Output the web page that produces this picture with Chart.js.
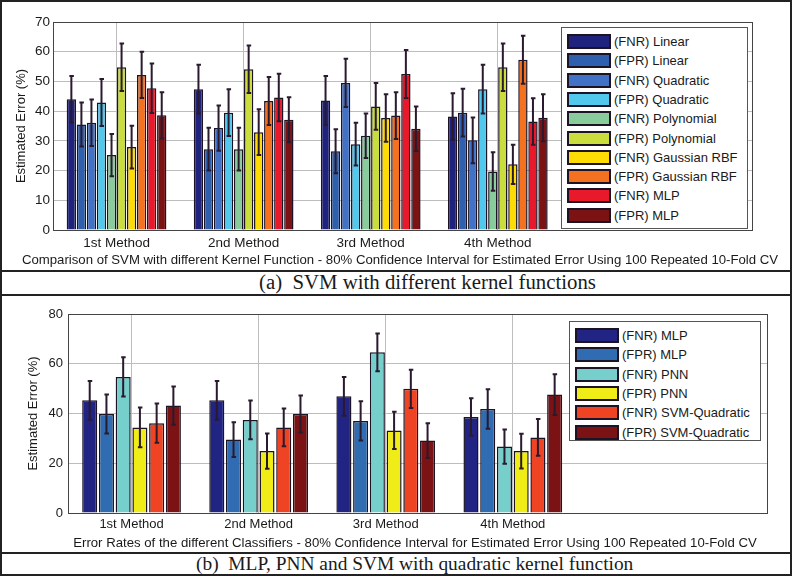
<!DOCTYPE html>
<html>
<head>
<meta charset="utf-8">
<script src="https://cdn.jsdelivr.net/npm/chart.js@4.4.0/dist/chart.umd.min.js"></script>
<style>
  body { margin: 0; background: #fff; }
  #page { position: relative; width: 794px; height: 576px; overflow: hidden; }
  .wrap { position: absolute; left: 0; width: 794px; }
  .hline { position: absolute; left: 0; width: 792px; height: 1.5px; background: #222; z-index: 5; }
  .vline { position: absolute; top: 0; width: 1.5px; height: 576px; background: #222; z-index: 5; }
  .caption { position: absolute; font-family: "Liberation Serif", "Times New Roman", serif; color: #1a1a1a; white-space: pre; }
  .xlabel { position: absolute; width: 900px; text-align: center; font-family: "Liberation Sans", Arial, sans-serif;
            font-size: 13.2px; color: #1a1a1a; white-space: nowrap; line-height: 1; }
  .legend { position: absolute; background: #fff; border: 1px solid #555; box-sizing: border-box; z-index: 3;
            font-family: "Liberation Sans", Arial, sans-serif; font-size: 13px; color: #1a1a1a; }
  .legend .row { position: absolute; left: 5px; height: 19px; display: flex; align-items: center; white-space: nowrap; }
  .legend .sw { width: 40px; height: 11px; border: 2px solid #1c1424; margin-right: 3px; }
</style>
</head>
<body>
<div id="page">
  <div class="wrap" style="top:0;height:270px"><canvas id="svmChart" width="794" height="270"></canvas></div>
  <div class="wrap" style="top:295px;height:257px"><canvas id="clfChart" width="794" height="257"></canvas></div>
  <div id="xlabelA" class="xlabel" style="left:-50px;top:253px"></div>
  <div id="xlabelB" class="xlabel" style="left:-35px;top:536px"></div>
  <div id="legendA" class="legend" style="left:561px;top:27px;width:187px;height:202px"></div>
  <div id="legendB" class="legend" style="left:569px;top:321px;width:192px;height:120px"></div>
  <div class="caption" style="left:259px;top:270px;font-size:20.8px">(a)  SVM with different kernel functions</div>
  <div class="caption" style="left:196px;top:553px;font-size:19.4px">(b)  MLP, PNN and SVM with quadratic kernel function</div>
  <div class="hline" style="top:0"></div>
  <div class="hline" style="top:270px"></div>
  <div class="hline" style="top:294px"></div>
  <div class="hline" style="top:552px"></div>
  <div class="hline" style="top:574px"></div>
  <div class="vline" style="left:0"></div>
  <div class="vline" style="left:790px"></div>
</div>
<script>
// x positions of the four method groups and their labels
const methodPos = [1, 2, 3, 4];
const methodLabels = ['1st Method', '2nd Method', '3rd Method', '4th Method'];

// (a) SVM with different kernel functions
const svmTitle = 'Comparison of SVM with different Kernel Function - 80% Confidence Interval for Estimated Error Using 100 Repeated 10-Fold CV';
const svmLabels = ['(FNR) Linear', '(FPR) Linear', '(FNR) Quadratic', '(FPR) Quadratic',
    '(FNR) Polynomial', '(FPR) Polynomial', '(FNR) Gaussian RBF', '(FPR) Gaussian RBF',
    '(FNR) MLP', '(FPR) MLP'];
const svmColors = ['#20237e', '#2f60ae', '#4272c6', '#52c8ec', '#88cc9c',
    '#c9de3c', '#fddc06', '#f4711f', '#e8192b', '#7b1315'];
const fnrLinear = [44.0, 47.4, 43.6, 38.2];
const fprLinear = [35.5, 27.2, 26.5, 39.5];
const fnrQuadratic = [36.1, 34.3, 49.5, 30.2];
const fprQuadratic = [42.9, 39.5, 28.9, 47.4];
const fnrPolynomial = [25.2, 27.2, 31.7, 19.7];
const fprPolynomial = [54.8, 54.1, 41.6, 54.8];
const fnrGaussian = [27.9, 32.9, 37.7, 22.1];
const fprGaussian = [52.2, 43.4, 38.5, 57.3];
const fnrMlpA = [47.7, 44.6, 52.5, 36.5];
const fprMlpA = [38.6, 37.1, 34.1, 37.8];
// half widths of the 80% confidence intervals
const errFnrLinear = [7.8, 8.2, 8.2, 7.8];
const errFprLinear = [7.4, 7.2, 7.4, 8.0];
const errFnrQuadratic = [7.8, 7.6, 8.1, 7.7];
const errFprQuadratic = [7.9, 7.9, 7.2, 8.2];
const errFnrPolynomial = [7.1, 7.2, 7.5, 6.5];
const errFprPolynomial = [8.0, 8.0, 7.9, 8.0];
const errFnrGaussian = [7.2, 7.7, 8.0, 6.6];
const errFprGaussian = [7.8, 8.1, 7.9, 8.1];
const errFnrMlpA = [8.3, 8.0, 8.1, 7.8];
const errFprMlpA = [7.8, 7.6, 7.5, 7.9];

// (b) MLP, PNN and SVM with quadratic kernel
const clfTitle = 'Error Rates of the different Classifiers - 80% Confidence Interval for Estimated Error Using 100 Repeated 10-Fold CV';
const clfLabels = ['(FNR) MLP', '(FPR) MLP', '(FNR) PNN', '(FPR) PNN',
    '(FNR) SVM-Quadratic', '(FPR) SVM-Quadratic'];
const clfColors = ['#212482', '#2f6cb2', '#77cfcc', '#f0ec18', '#ef4423', '#7b1315'];
const fnrMlpB = [45.3, 45.3, 46.9, 38.6];
const fprMlpB = [39.8, 29.5, 37.0, 41.8];
const fnrPnn = [54.7, 37.4, 64.6, 26.7];
const fprPnn = [34.4, 24.9, 33.2, 24.9];
const fnrSvmQ = [36.1, 34.4, 49.9, 30.4];
const fprSvmQ = [43.2, 39.8, 29.1, 47.6];
const errFnrMlpB = [7.8, 7.8, 7.8, 7.5];
const errFprMlpB = [7.8, 7.0, 7.9, 7.9];
const errFnrPnn = [7.9, 7.8, 7.6, 6.9];
const errFprPnn = [8.0, 7.1, 7.5, 7.0];
const errFnrSvmQ = [7.9, 7.6, 7.7, 7.4];
const errFprSvmQ = [7.7, 7.4, 7.0, 8.2];

const SANS = '"Liberation Sans", Arial, sans-serif';

// error bars with small caps, drawn on top of the bars
const errorBars = {
    id: 'errorBars',
    afterDatasetsDraw(chart) {
        const ctx = chart.ctx;
        const yScale = chart.scales.y;
        ctx.save();
        ctx.strokeStyle = '#2a1a2e';
        ctx.lineWidth = 2;
        chart.data.datasets.forEach((ds, d) => {
            chart.getDatasetMeta(d).data.forEach((bar, i) => {
                const v = ds.data[i].y, e = ds.errors[i];
                const top = yScale.getPixelForValue(v + e);
                const bot = yScale.getPixelForValue(v - e);
                ctx.beginPath();
                ctx.moveTo(bar.x, top); ctx.lineTo(bar.x, bot);
                ctx.moveTo(bar.x - 2, top); ctx.lineTo(bar.x + 2.5, top);
                ctx.moveTo(bar.x - 2, bot); ctx.lineTo(bar.x + 2.5, bot);
                ctx.stroke();
            });
        });
        ctx.restore();
    }
};

// matlab style box around the axes
const axesBox = {
    id: 'axesBox',
    afterDraw(chart) {
        const a = chart.chartArea, ctx = chart.ctx;
        ctx.save();
        ctx.strokeStyle = '#444';
        ctx.lineWidth = 1;
        ctx.strokeRect(a.left + 0.5, a.top + 0.5, a.right - a.left, a.bottom - a.top);
        ctx.restore();
    }
};

function makeDatasets(labels, colors, values, errors, barPct) {
    return labels.map((label, k) => ({
        label: label,
        data: values[k].map((v, i) => ({x: methodPos[i], y: v})),
        errors: errors[k],
        backgroundColor: colors[k],
        borderColor: '#1c1424',
        borderWidth: 1.5,
        categoryPercentage: 0.79,
        barPercentage: barPct
    }));
}

function makeChart(id, datasets, cfg) {
    return new Chart(document.getElementById(id), {
        type: 'bar',
        data: {datasets: datasets},
        options: {
            responsive: false,
            animation: false,
            layout: {padding: {left: 0, right: cfg.padRight, top: cfg.padTop, bottom: 0}},
            plugins: {legend: {display: false}, tooltip: {enabled: false}},
            scales: {
                x: {
                    type: 'linear',
                    min: 0.5,
                    max: 6,
                    offset: false,
                    grid: {offset: false, color: '#bdbdbd', drawTicks: false},
                    border: {display: true, color: '#444'},
                    afterBuildTicks: (s) => { s.ticks = methodPos.map(v => ({value: v})); },
                    afterFit: (s) => { s.height = cfg.xHeight; },
                    ticks: {
                        padding: cfg.xTickPad,
                        color: '#1a1a1a',
                        font: {family: SANS, size: cfg.xTickSize},
                        callback: (v) => methodLabels[methodPos.indexOf(v)] || ''
                    }
                },
                y: {
                    min: 0,
                    max: cfg.yMax,
                    grid: {color: '#bdbdbd', drawTicks: false},
                    border: {display: true, color: '#444'},
                    afterFit: (s) => { s.width = cfg.yWidth; },
                    ticks: {
                        stepSize: cfg.yStep,
                        padding: cfg.yTickPad,
                        color: '#1a1a1a',
                        font: {family: SANS, size: cfg.yTickSize}
                    },
                    title: {
                        display: true,
                        text: 'Estimated Error (%)',
                        color: '#1a1a1a',
                        font: {family: SANS, size: 13},
                        padding: {top: cfg.yTitlePad, bottom: 0}
                    }
                }
            }
        },
        plugins: [axesBox, errorBars]
    });
}

function buildLegend(id, labels, colors) {
    const box = document.getElementById(id);
    labels.forEach((label, k) => {
        const row = document.createElement('div');
        row.className = 'row';
        row.style.top = (4 + k * 19.3) + 'px';
        const sw = document.createElement('span');
        sw.className = 'sw';
        sw.style.background = colors[k];
        const txt = document.createElement('span');
        txt.textContent = label;
        row.appendChild(sw);
        row.appendChild(txt);
        box.appendChild(row);
    });
}

makeChart('svmChart',
    makeDatasets(svmLabels, svmColors,
        [fnrLinear, fprLinear, fnrQuadratic, fprQuadratic, fnrPolynomial, fprPolynomial, fnrGaussian, fprGaussian, fnrMlpA, fprMlpA],
        [errFnrLinear, errFprLinear, errFnrQuadratic, errFprQuadratic, errFnrPolynomial, errFprPolynomial, errFnrGaussian, errFprGaussian, errFnrMlpA, errFprMlpA],
        0.93),
    {padRight: 42, padTop: 22, xHeight: 40, xTickPad: 5, xTickSize: 13.5,
     yMax: 70, yStep: 10, yWidth: 53, yTickPad: 3, yTickSize: 13.5, yTitlePad: 14});

makeChart('clfChart',
    makeDatasets(clfLabels, clfColors,
        [fnrMlpB, fprMlpB, fnrPnn, fprPnn, fnrSvmQ, fprSvmQ],
        [errFnrMlpB, errFprMlpB, errFnrPnn, errFprPnn, errFnrSvmQ, errFprSvmQ],
        0.9),
    {padRight: 27, padTop: 19, xHeight: 39, xTickPad: 4, xTickSize: 13,
     yMax: 80, yStep: 20, yWidth: 68, yTickPad: 5, yTickSize: 13, yTitlePad: 26});

document.getElementById('xlabelA').textContent = svmTitle;
document.getElementById('xlabelB').textContent = clfTitle;
buildLegend('legendA', svmLabels, svmColors);
buildLegend('legendB', clfLabels, clfColors);
</script>
</body>
</html>
